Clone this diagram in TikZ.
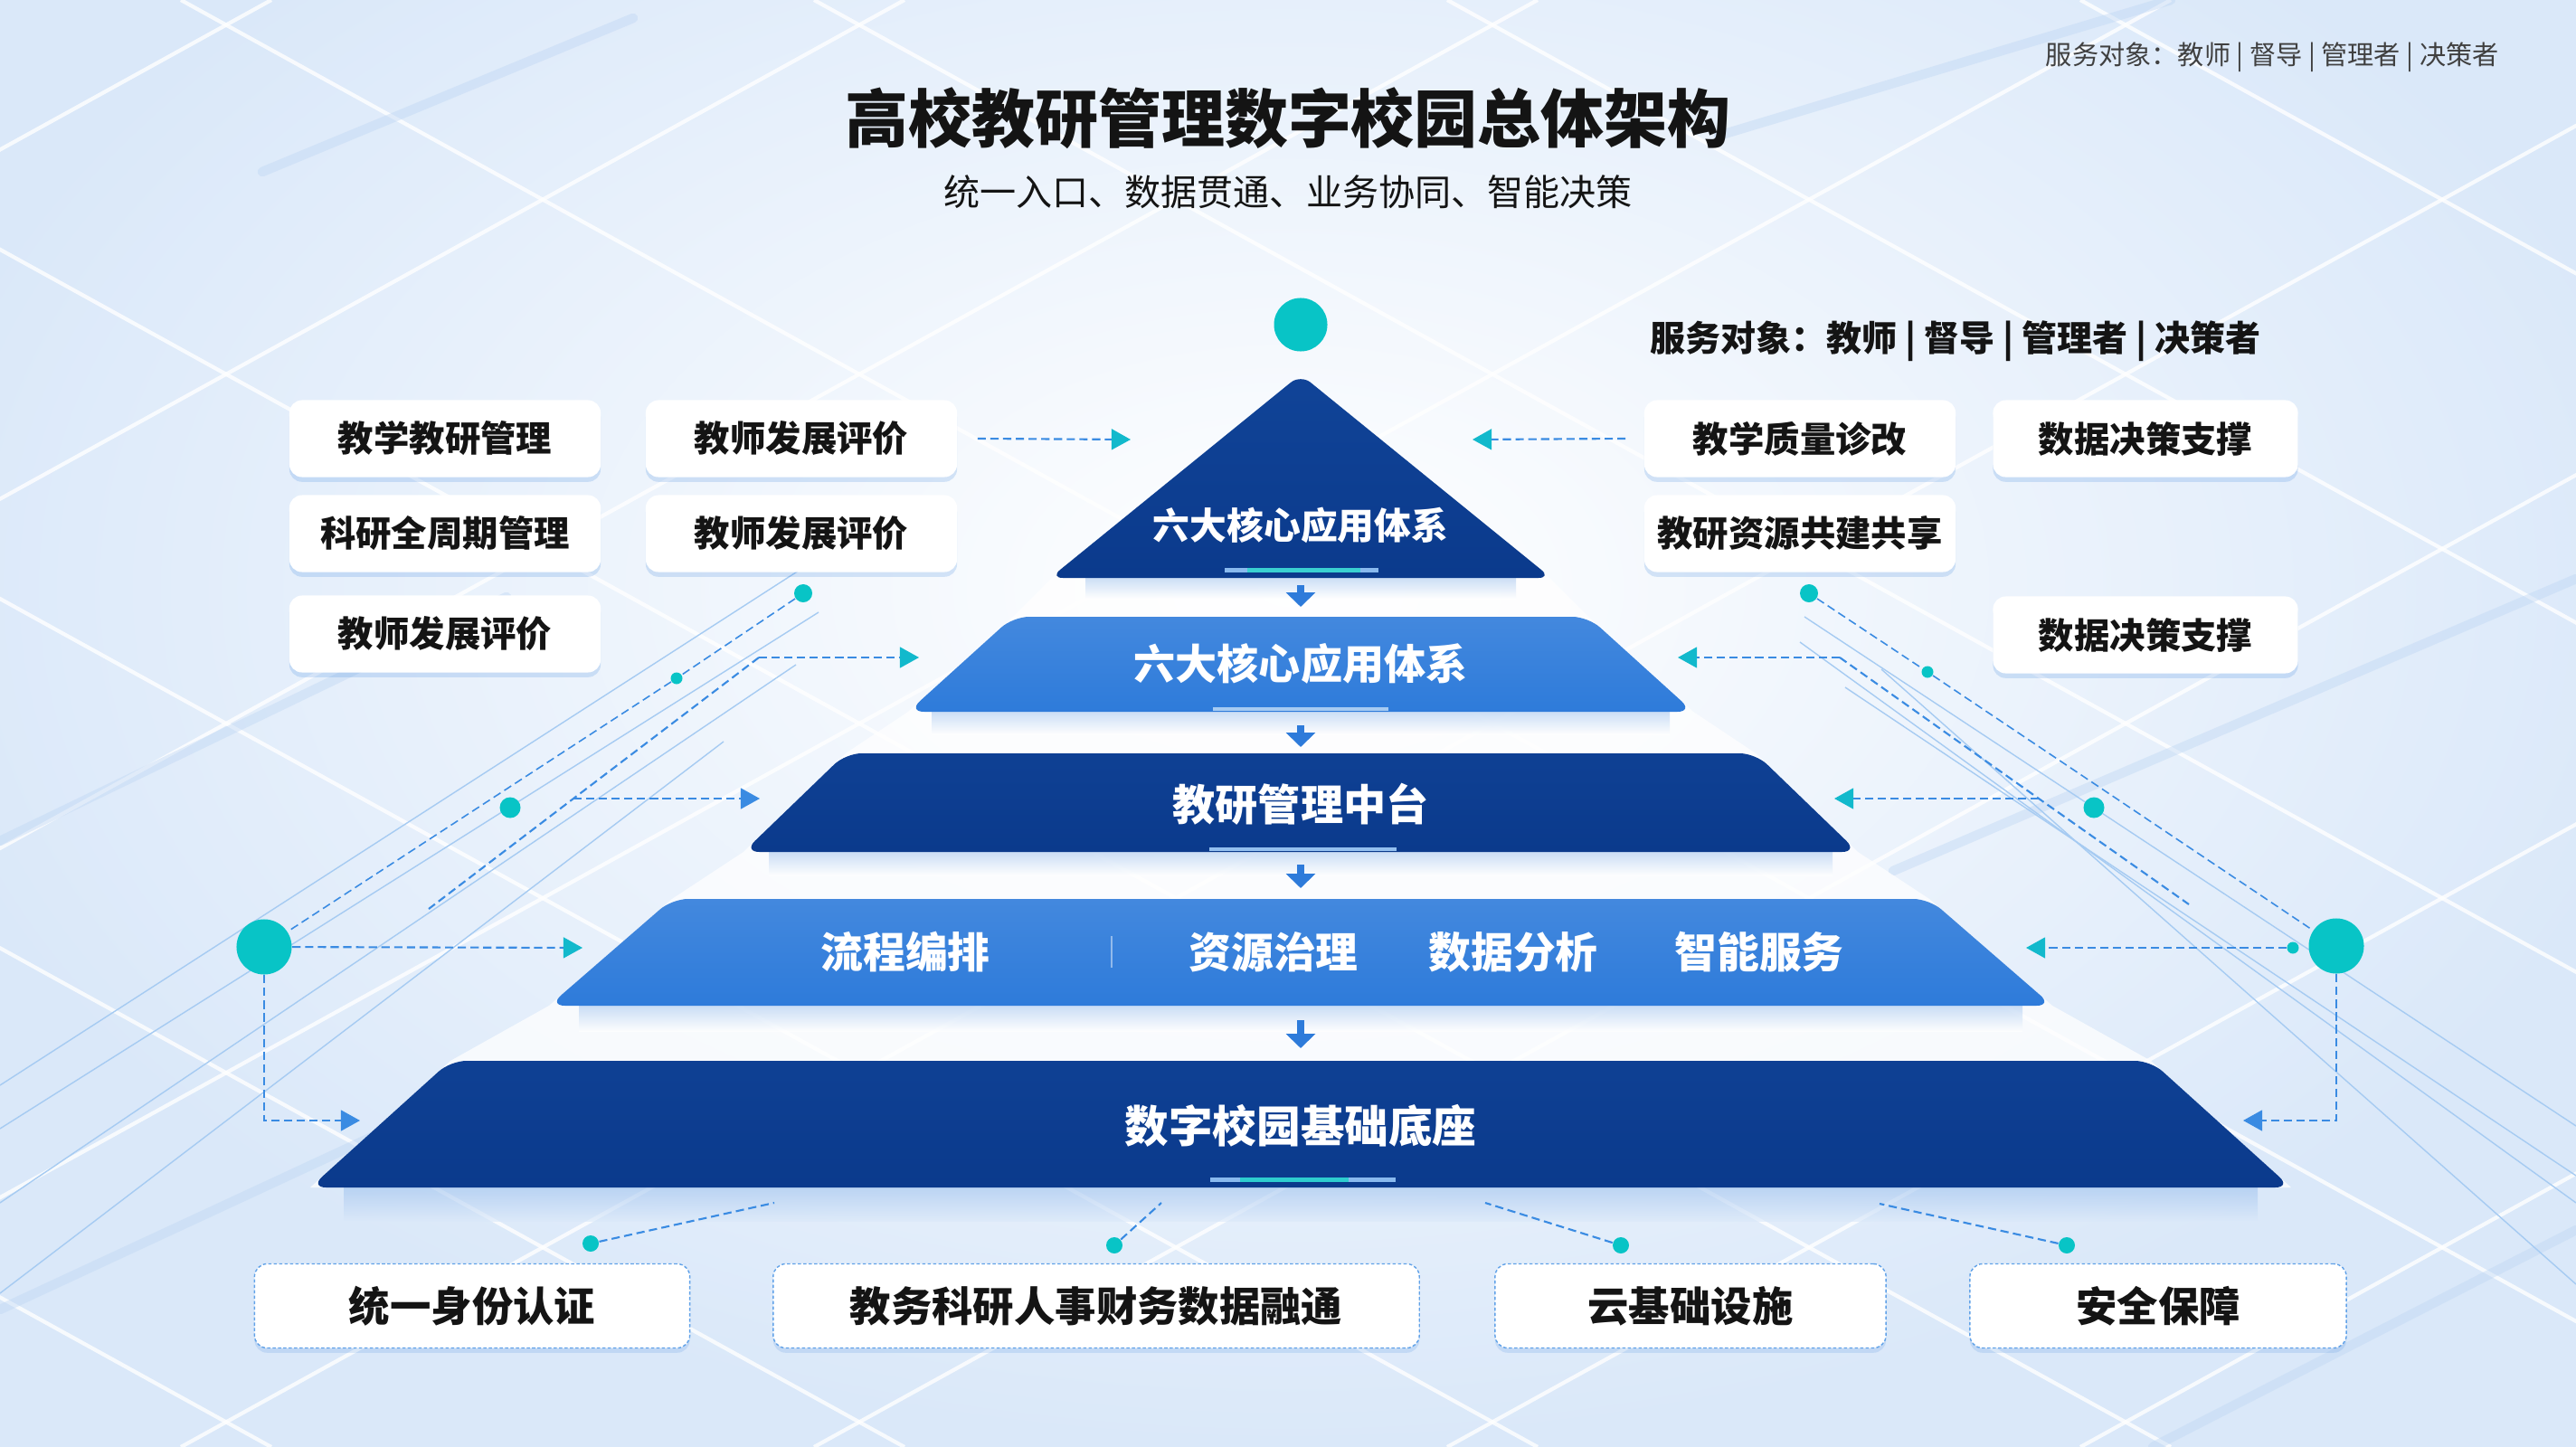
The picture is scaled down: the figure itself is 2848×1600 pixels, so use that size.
\documentclass[tikz,border=0pt]{standalone}
\usepackage{fontspec}
\setmainfont{Noto Sans CJK SC}
\usetikzlibrary{arrows.meta,shadows,positioning}
\definecolor{deepblue}{HTML}{0B3A8C}
\definecolor{midblue}{HTML}{2E7BDA}
\definecolor{tealdot}{HTML}{08C4C6}
\definecolor{flowblue}{HTML}{3A8BE2}
\definecolor{bgblue}{HTML}{DAE8F9}
\definecolor{barblue}{HTML}{BCD5F3}
\definecolor{inkblack}{HTML}{141414}

\begin{document}
\begin{tikzpicture}[x=0.01cm,y=-0.01cm,
  appbox/.style={fill=white,rounded corners=4pt,minimum width=3.44cm,minimum height=0.85cm,inner sep=0pt,text=inkblack,font=\bfseries\fontsize{11.2}{13}\selectfont,drop shadow={shadow xshift=0pt,shadow yshift=-1.5pt,opacity=0.18,fill=midblue}},
  basebox/.style={fill=white,draw=flowblue!80,dash pattern=on 1pt off 0.7pt,line width=0.4pt,rounded corners=4pt,minimum height=0.93cm,inner sep=0pt,text=inkblack,font=\bfseries\fontsize{12.9}{15}\selectfont,drop shadow={shadow xshift=0pt,shadow yshift=-1.5pt,opacity=0.15,fill=midblue}},
  layertxt/.style={text=white,font=\bfseries\fontsize{13.3}{15}\selectfont},
  dot/.style={circle,fill=tealdot,inner sep=0pt},
  flow/.style={draw=flowblue,line width=0.6pt,dash pattern=on 2.6pt off 1.4pt},
  tipteal/.style={-{Triangle[length=6pt,width=6.5pt,color=tealdot!80!flowblue]}},
  tipblue/.style={-{Triangle[length=6pt,width=6.5pt,color=flowblue]}},
  downarr/.style={midblue,line width=2.3pt,-{Triangle[length=4.5pt,width=9pt]}},
  gridwhite/.style={white,line width=1.2pt,opacity=0.8},
  gridbar/.style={barblue,line width=3pt,line cap=round,opacity=0.4},
  fanline/.style={flowblue!45,line width=0.4pt}]
\useasboundingbox (0,0) rectangle (2848,1600);
\fill[bgblue] (0,0) rectangle (2848,1600);
\shade[inner color=white,outer color=bgblue] (1424,650) ellipse (1550 and 950);

\foreach \s in {-2600,-1900,...,2600}
  \draw[gridwhite] (\s,0) -- ++(2900,1600);
\foreach \s in {300,1000,...,5500}
  \draw[gridwhite] (\s,0) -- ++(-2900,1600);
\draw[gridbar] (0,1448) -- (420,1253);
\draw[gridbar] (0,930) -- (560,660);
\draw[gridbar] (290,190) -- (700,20);
\draw[gridbar] (2093,963) -- (2848,640);
\draw[gridbar] (2380,1600) -- (2848,1360);
\draw[gridbar] (1900,150) -- (2400,0);

\draw[fanline] (905,677) -- (0,1248);
\draw[fanline] (880,735) -- (0,1330);
\draw[fanline] (900,620) -- (0,1200);
\draw[fanline] (800,820) -- (0,1430);
\draw[fanline] (1995,682) -- (2848,1245);
\draw[fanline] (2040,760) -- (2848,1300);
\draw[fanline] (1990,710) -- (2848,1330);
\draw[fanline] (2080,740) -- (2848,1420);

\node[font=\bfseries\fontsize{19.9}{24}\selectfont,text=inkblack] (title) at (1424,131) {高校教研管理数字校园总体架构};
\node[font=\fontsize{11.4}{14}\selectfont,text=inkblack] (subtitle) at (1424,212) {统一入口、数据贯通、业务协同、智能决策};
\node[anchor=east,font=\fontsize{8.3}{10}\selectfont,text=black!75] (audtop) at (2775,63) {服务对象：教师 | 督导 | 管理者 | 决策者};
\node[font=\bfseries\fontsize{11.1}{13}\selectfont,text=inkblack] (aud) at (2162,377) {服务对象：教师 | 督导 | 管理者 | 决策者};

\fill[white,opacity=0.75] (1438,416) -- (1163,639) -- (1120,682) -- (1004,787) -- (935,833) -- (822,942) -- (743,994) -- (607,1112) -- (498,1173) -- (343,1313) -- (2533,1313) -- (2378,1173) -- (2269,1112) -- (2133,994) -- (2054,942) -- (1941,833) -- (1872,787) -- (1756,682) -- (1713,639) -- cycle;
\shade[top color=midblue!40,bottom color=white,opacity=0.6] (1200,639) rectangle (1676,662);
\shade[top color=midblue!40,bottom color=white,opacity=0.6] (1030,787) rectangle (1846,812);
\shade[top color=midblue!40,bottom color=white,opacity=0.6] (850,942) rectangle (2026,968);
\shade[top color=midblue!40,bottom color=white,opacity=0.6] (640,1112) rectangle (2236,1140);
\shade[top color=midblue!45,bottom color=bgblue,opacity=0.6] (380,1313) rectangle (2496,1350);

\shade[top color=deepblue!85!midblue,bottom color=deepblue,rounded corners=4pt] (1438,414) -- (1715,639) -- (1161,639) -- cycle;
\shade[top color=midblue!90!white,bottom color=midblue,rounded corners=5pt] (1120,682) -- (1756,682) -- (1872,787) -- (1004,787) -- cycle;
\shade[top color=deepblue!90!midblue,bottom color=deepblue,rounded corners=5pt] (935,833) -- (1941,833) -- (2054,942) -- (822,942) -- cycle;
\shade[top color=midblue!90!white,bottom color=midblue,rounded corners=5pt] (743,994) -- (2133,994) -- (2269,1112) -- (607,1112) -- cycle;
\shade[top color=deepblue!90!midblue,bottom color=deepblue,rounded corners=5pt] (498,1173) -- (2378,1173) -- (2533,1313) -- (343,1313) -- cycle;

\fill[flowblue!60] (1354,628) rectangle (1524,633);
\fill[tealdot!80!white] (1379,628) rectangle (1504,633);
\fill[flowblue!45] (1341,782) rectangle (1535,786);
\fill[flowblue!55] (1337,937) rectangle (1544,941);
\fill[flowblue!60] (1338,1302) rectangle (1543,1307);
\fill[tealdot!85!white] (1371,1302) rectangle (1491,1307);
\draw[white,opacity=0.45,line width=0.5pt] (1229,1035) -- (1229,1070);

\node[layertxt,font=\bfseries\fontsize{11.6}{13}\selectfont] (ly1) at (1438,581) {六大核心应用体系};
\node[layertxt,font=\bfseries\fontsize{13.1}{15}\selectfont] (ly2) at (1438,734) {六大核心应用体系};
\node[layertxt,font=\bfseries\fontsize{13.4}{15}\selectfont] (ly3) at (1438,889) {教研管理中台};
\node[layertxt] (ly4a) at (1001,1053) {流程编排};
\node[layertxt] (ly4b) at (1408,1053) {资源治理};
\node[layertxt] (ly4c) at (1673,1053) {数据分析};
\node[layertxt] (ly4d) at (1945,1053) {智能服务};
\node[layertxt,font=\bfseries\fontsize{13.8}{16}\selectfont] (ly5) at (1438,1245) {数字校园基础底座};

\coordinate (s1) at (1438,647);
\coordinate (n2) at (1438,671);
\coordinate (s2) at (1438,802);
\coordinate (n3) at (1438,826);
\coordinate (s3) at (1438,956);
\coordinate (n4) at (1438,982);
\coordinate (s4) at (1438,1128);
\coordinate (n5) at (1438,1159);
\draw[downarr] (s1) -- (n2);
\draw[downarr] (s2) -- (n3);
\draw[downarr] (s3) -- (n4);
\draw[downarr] (s4) -- (n5);

\node[dot,minimum size=0.59cm] (dtop) at (1438,359) {};

\node[appbox] (bl1) at (492,485) {教学教研管理};
\node[appbox] (bl2) at (886,485) {教师发展评价};
\node[appbox] (bl3) at (492,590) {科研全周期管理};
\node[appbox] (bl4) at (886,590) {教师发展评价};
\node[appbox] (bl5) at (492,701) {教师发展评价};
\node[appbox] (br1) at (1990,485) {教学质量诊改};
\node[appbox,minimum width=3.37cm] (br2) at (2372,485) {数据决策支撑};
\node[appbox] (br3) at (1990,590) {教研资源共建共享};
\node[appbox,minimum width=3.37cm] (br4) at (2372,702) {数据决策支撑};

\node[basebox,minimum width=4.81cm] (bs1) at (522,1444) {统一身份认证};
\node[basebox,minimum width=7.14cm] (bs2) at (1212,1444) {教务科研人事财务数据融通};
\node[basebox,minimum width=4.32cm] (bs3) at (1869,1444) {云基础设施};
\node[basebox,minimum width=4.16cm] (bs4) at (2386,1444) {安全保障};

\coordinate (e1l) at (1250,486);
\coordinate (e1r) at (1628,486);
\draw[flow,tipteal] (bl2.east) ++(22,0) -- (e1l);
\draw[flow,tipteal] (br1.west) ++(-20,0) -- (e1r);

\node[dot,minimum size=0.2cm] (dl1) at (888,656) {};
\node[dot,minimum size=0.13cm] (dl2) at (748,750) {};
\node[dot,minimum size=0.23cm] (dl3) at (564,893) {};
\node[dot,minimum size=0.61cm] (dl4) at (292,1047) {};
\node[dot,minimum size=0.2cm] (dr1) at (2000,656) {};
\node[dot,minimum size=0.13cm] (dr2) at (2131,743) {};
\node[dot,minimum size=0.23cm] (dr3) at (2315,893) {};
\node[dot,minimum size=0.61cm] (dr4) at (2583,1046) {};
\node[dot,minimum size=0.13cm] (dr5) at (2535,1048) {};
\draw[flow,line width=0.45pt] (dl1) -- (dl2) -- (dl4);
\draw[flow,line width=0.45pt] (dr1) -- (dr2) -- (dr4);

\coordinate (k2l) at (839,727);
\coordinate (k3l) at (634,883);
\coordinate (k4l) at (474,1005);
\coordinate (e2l) at (1016,727);
\coordinate (e3l) at (840,883);
\coordinate (k2r) at (2034,727);
\coordinate (k3r) at (2254,883);
\coordinate (k4r) at (2420,1000);
\coordinate (e2r) at (1855,727);
\coordinate (e3r) at (2028,883);
\draw[flow] (k2l) -- (k3l) -- (k4l);
\draw[flow] (k2r) -- (k3r) -- (k4r);
\draw[flow,tipteal] (k2l) -- (e2l);
\draw[flow,tipblue] (k3l) -- (e3l);
\draw[flow,tipteal] (k2r) -- (e2r);
\draw[flow,tipteal] (k3r) -- (e3r);

\coordinate (e4l) at (644,1048);
\coordinate (e4r) at (2240,1048);
\coordinate (e5l) at (398,1239);
\coordinate (e5r) at (2480,1239);
\draw[flow,tipteal] (dl4) -- (e4l);
\draw[flow,tipteal] (dr5) -- (e4r);
\draw[flow,tipblue] (dl4) |- (e5l);
\draw[flow,tipblue] (dr4) |- (e5r);

\node[dot,minimum size=0.18cm] (db1) at (653,1375) {};
\node[dot,minimum size=0.18cm] (db2) at (1232,1377) {};
\node[dot,minimum size=0.18cm] (db3) at (1792,1377) {};
\node[dot,minimum size=0.18cm] (db4) at (2285,1377) {};
\coordinate (c1) at (856,1330);
\coordinate (c2) at (1284,1330);
\coordinate (c3) at (1642,1330);
\coordinate (c4) at (2078,1331);
\draw[flow] (db1) -- (c1);
\draw[flow] (db2) -- (c2);
\draw[flow] (db3) -- (c3);
\draw[flow] (db4) -- (c4);
\end{tikzpicture}
\end{document}
